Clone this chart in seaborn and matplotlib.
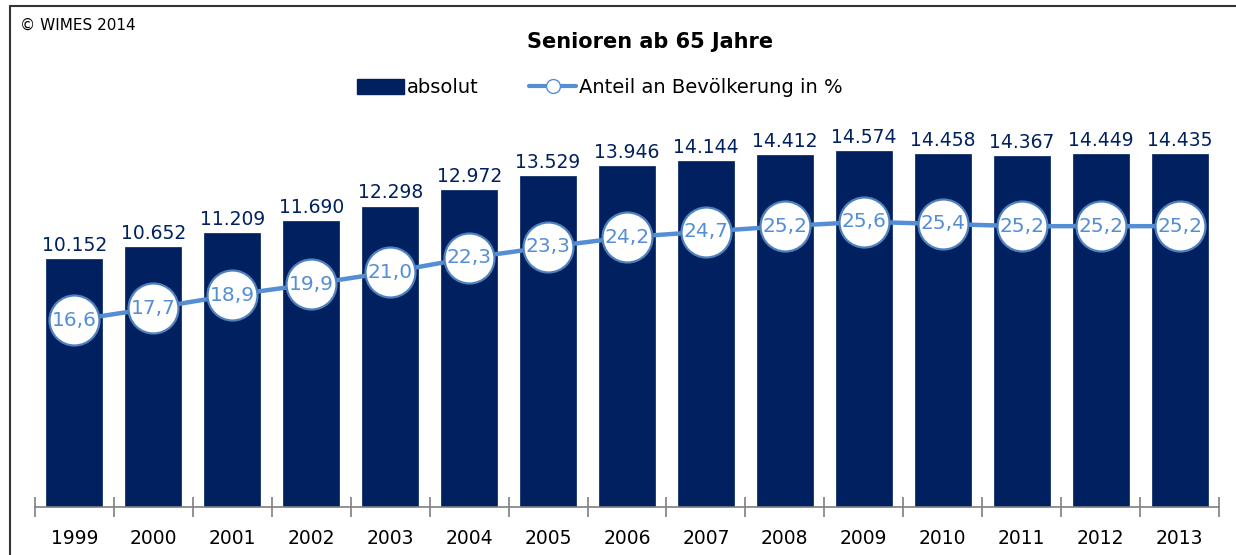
import numpy as np
import matplotlib
matplotlib.use("Agg")
import matplotlib.pyplot as plt
from matplotlib.lines import Line2D
from matplotlib.patches import Patch
import seaborn as sns

# Data
years = ["1999", "2000", "2001", "2002", "2003", "2004", "2005", "2006",
         "2007", "2008", "2009", "2010", "2011", "2012", "2013"]
absolut = [10152, 10652, 11209, 11690, 12298, 12972, 13529, 13946,
           14144, 14412, 14574, 14458, 14367, 14449, 14435]
anteil = [16.6, 17.7, 18.9, 19.9, 21.0, 22.3, 23.3, 24.2,
          24.7, 25.2, 25.6, 25.4, 25.2, 25.2, 25.2]

navy = "#002060"
light = "#558ED5"

sns.set_theme(style="white")
plt.rcParams['font.family'] = ['DejaVu Sans']
plt.rcParams['text.color'] = 'black'

W, H = 1236, 555
fig = plt.figure(figsize=(W / 100, H / 100), dpi=100)
ax = fig.add_axes([35 / W, (H - 507) / H, (1219 - 35) / W, (507 - 130) / H])

# Bars
sns.barplot(x=years, y=absolut, color=navy, width=0.71, saturation=1,
            ax=ax, edgecolor=navy, linewidth=0.5)
ax.bar_label(ax.containers[0],
             labels=[f"{v:,}".replace(",", ".") for v in absolut],
             padding=3, color=navy, fontsize=13.5)
ax.set_ylim(0, 15432)
ax.set_xlim(-0.5, len(years) - 0.5)
ax.set_yticks([])
ax.set_xlabel("")
ax.set_ylabel("")

# x axis: labels centred, tick marks between categories
ax.tick_params(axis="x", which="major", length=0, pad=16, labelsize=13.5,
               labelcolor="black")
ax.set_xticks(list(np.arange(-0.5, len(years), 1.0)), minor=True)
ax.tick_params(axis="x", which="minor", direction="inout", length=14,
               width=1.2, color="#7f7f7f", bottom=True)
for side in ["top", "right", "left"]:
    ax.spines[side].set_visible(False)
ax.spines["bottom"].set_color("#7f7f7f")
ax.spines["bottom"].set_linewidth(1.2)

# Line on secondary axis
ax2 = ax.twinx()
pos = np.arange(len(years))
sns.lineplot(x=pos, y=anteil, ax=ax2, color=light, linewidth=3.2,
             marker="o", markersize=36, markerfacecolor="white",
             markeredgecolor="#4F81BD", markeredgewidth=1.6, zorder=3)
ax2.set_ylim(-0.5, 34.0)
ax2.set_yticks([])
ax2.set_ylabel("")
for side in ["top", "right", "left", "bottom"]:
    ax2.spines[side].set_visible(False)
for x, v in zip(pos, anteil):
    ax2.text(x, v, f"{v:.1f}".replace(".", ","), ha="center", va="center",
             color=light, fontsize=14.5, zorder=5)

# Title, credit, legend
fig.text(650 / W, 1 - 42 / H, "Senioren ab 65 Jahre", ha="center",
         va="center", fontsize=15, fontweight="bold", color="black")
fig.text(20 / W, 1 - 25 / H, "© WIMES 2014", ha="left", va="center",
         fontsize=11, color="black")

handles = [Patch(facecolor=navy, edgecolor=navy),
           Line2D([0], [0], color=light, linewidth=3, marker="o",
                  markersize=10, markerfacecolor="white",
                  markeredgecolor=light)]
fig.legend(handles, ["absolut", "Anteil an Bevölkerung in %"],
           loc="center", bbox_to_anchor=(600 / W, 1 - 88 / H), ncol=2,
           frameon=False, fontsize=14, labelcolor="black", handlelength=2.4,
           handletextpad=0.15, columnspacing=2.6, handleheight=0.8)

# Outer frame (top and left)
fig.add_artist(Line2D([10 / W, 1.0], [1 - 6 / H, 1 - 6 / H],
                      transform=fig.transFigure, color="#333333", lw=1.5))
fig.add_artist(Line2D([10 / W, 10 / W], [0, 1 - 6 / H],
                      transform=fig.transFigure, color="#333333", lw=1.5))

fig.savefig("out.png", dpi=100, facecolor="white")
